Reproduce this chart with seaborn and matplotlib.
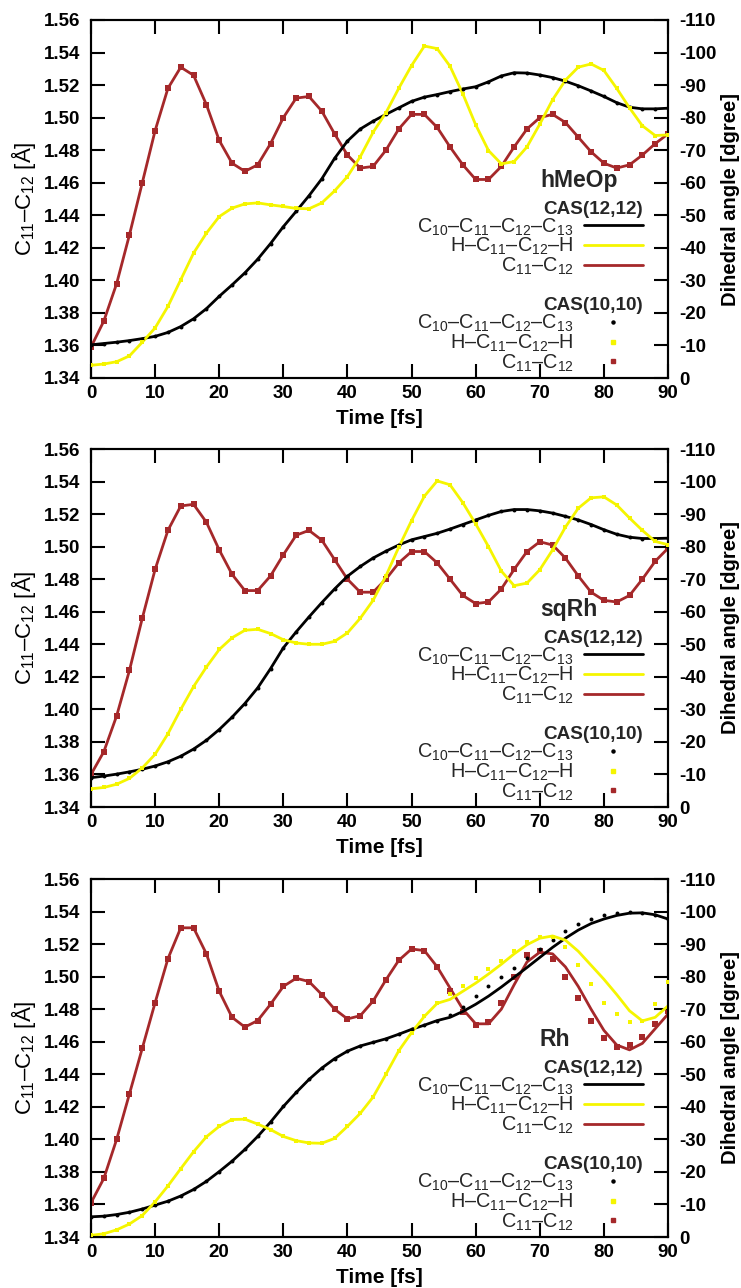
import matplotlib
matplotlib.use("Agg")
import matplotlib.pyplot as plt
import seaborn as sns
import pandas as pd
from matplotlib.lines import Line2D

# ---------------- data ----------------
TIME = list(range(0, 92, 2))          # fs
TIME_LATE = list(range(56, 92, 2))    # fs, where Rh CAS(12,12) departs from CAS(10,10)

PANELS = ["hMeOp", "sqRh", "Rh"]

# C11-C12 bond length [Angstrom]
BOND_HMEOP = [1.359, 1.375, 1.398, 1.428, 1.460, 1.492, 1.518, 1.531, 1.526, 1.508, 1.486,
              1.472, 1.467, 1.471, 1.484, 1.500, 1.512, 1.513, 1.504, 1.490, 1.477,
              1.469, 1.470, 1.480, 1.493, 1.502, 1.502, 1.494, 1.482, 1.471, 1.462,
              1.462, 1.470, 1.482, 1.493, 1.500, 1.502, 1.497, 1.488, 1.479, 1.472,
              1.469, 1.471, 1.477, 1.484, 1.490]
BOND_SQRH = [1.360, 1.374, 1.396, 1.424, 1.456, 1.486, 1.510, 1.525, 1.526, 1.515, 1.498,
             1.483, 1.473, 1.473, 1.482, 1.495, 1.507, 1.510, 1.504, 1.492, 1.480,
             1.472, 1.472, 1.480, 1.490, 1.497, 1.497, 1.490, 1.480, 1.470, 1.465,
             1.466, 1.474, 1.486, 1.497, 1.503, 1.501, 1.493, 1.482, 1.472, 1.467,
             1.466, 1.470, 1.480, 1.491, 1.499]
BOND_RH = [1.361, 1.376, 1.400, 1.428, 1.456, 1.484, 1.511, 1.530, 1.530, 1.514, 1.491,
           1.475, 1.469, 1.473, 1.483, 1.494, 1.499, 1.497, 1.489, 1.480, 1.474,
           1.476, 1.485, 1.498, 1.510, 1.517, 1.516, 1.506, 1.491, 1.478, 1.470,
           1.472, 1.484, 1.500, 1.513, 1.516, 1.511, 1.500, 1.487, 1.473, 1.462,
           1.457, 1.458, 1.463, 1.471, 1.479]
BOND_RH_CAS12_LATE = [1.493, 1.480, 1.471, 1.471, 1.480, 1.495, 1.509, 1.515, 1.514,
                      1.506, 1.494, 1.480, 1.467, 1.458, 1.455, 1.459, 1.468, 1.477]

# C10-C11-C12-C13 dihedral [degree]
CCCC_HMEOP = [-10.2, -10.6, -11.0, -11.5, -12.1, -12.8, -14.0, -15.8, -18.2, -21.3, -25.1,
              -28.6, -32.3, -36.5, -41.3, -46.5, -51.2, -56.0, -61.2, -67.5, -72.8,
              -76.5, -78.9, -81.0, -83.0, -85.0, -86.3, -87.1, -88.0, -88.8, -89.5,
              -91.0, -92.8, -93.8, -93.7, -93.1, -92.3, -91.2, -89.8, -88.2, -86.5,
              -84.6, -83.2, -82.7, -82.7, -82.9]
CCCC_SQRH = [-9.0, -9.5, -10.1, -10.8, -11.6, -12.6, -13.9, -15.6, -17.8, -20.5, -23.8,
             -27.6, -31.8, -36.6, -42.5, -48.9, -53.8, -58.4, -62.8, -67.0, -70.9,
             -73.9, -76.5, -78.6, -80.5, -82.1, -83.1, -84.1, -85.4, -86.8, -88.2,
             -89.6, -90.8, -91.4, -91.4, -91.0, -90.3, -89.3, -88.2, -86.8, -85.2,
             -83.8, -82.9, -82.5, -82.5, -82.6]
CCCC_RH = [-6.2, -6.4, -6.9, -7.6, -8.6, -9.8, -11.0, -12.6, -14.6, -17.1, -20.1,
           -23.3, -26.9, -30.9, -35.3, -40.1, -44.4, -48.4, -51.9, -54.8, -57.1,
           -58.7, -59.8, -60.9, -62.3, -63.8, -65.1, -66.5, -68.3, -70.7, -74.1,
           -77.0, -79.9, -82.7, -85.6, -88.5, -91.3, -94.0, -96.2, -97.8, -98.8,
           -99.5, -99.8, -99.7, -99.0, -97.7]
CCCC_RH_CAS12_LATE = [-67.5, -69.3, -71.5, -74.0, -76.8, -79.8, -82.8, -85.9, -89.0,
                      -91.8, -94.3, -96.3, -97.7, -98.8, -99.5, -99.6, -99.0, -97.7]

# H-C11-C12-H dihedral [degree]
HCCH_HMEOP = [-3.9, -4.3, -5.0, -6.8, -11.0, -15.4, -22.0, -30.2, -38.4, -44.5, -49.6,
              -52.2, -53.5, -53.8, -53.2, -52.7, -52.1, -52.0, -53.8, -57.5, -61.9,
              -68.0, -75.5, -81.5, -89.0, -96.0, -102.0, -101.2, -95.8, -87.3, -77.8,
              -69.9, -65.8, -66.5, -71.0, -78.0, -85.5, -91.5, -95.5, -96.5, -94.5,
              -89.0, -83.0, -77.5, -74.5, -74.7]
HCCH_SQRH = [-5.6, -6.0, -7.0, -8.8, -12.0, -16.2, -22.5, -30.0, -37.0, -43.0, -48.4,
             -52.0, -54.3, -54.6, -53.3, -51.4, -50.4, -50.0, -50.0, -50.9, -53.5,
             -58.0, -63.5, -71.0, -79.8, -88.0, -95.5, -100.2, -99.0, -93.5, -87.0,
             -80.0, -72.5, -68.0, -68.8, -72.9, -79.0, -86.0, -91.8, -95.0, -95.3,
             -92.8, -88.8, -85.0, -81.6, -80.6]
HCCH_RH = [-0.5, -1.0, -2.2, -4.0, -6.6, -10.8, -15.7, -21.0, -26.2, -30.8, -34.0,
           -36.1, -36.2, -34.7, -33.0, -30.9, -29.6, -28.9, -28.8, -30.3, -34.0,
           -38.0, -43.0, -50.0, -57.2, -62.8, -67.8, -71.8, -74.8, -77.2, -79.7,
           -82.2, -84.9, -87.9, -90.5, -92.1, -92.2, -89.0, -83.5, -77.8, -72.0,
           -68.5, -66.0, -66.3, -71.5, -78.2]
HCCH_RH_CAS12_LATE = [-73.0, -75.5, -78.0, -80.8, -83.8, -87.0, -89.8, -91.8, -92.5,
                      -91.2, -87.8, -83.5, -79.2, -74.5, -69.5, -66.4, -67.5, -71.0]

X_TICKS = list(range(0, 100, 10))
LEFT_TICKS = [1.34, 1.36, 1.38, 1.40, 1.42, 1.44, 1.46, 1.48, 1.50, 1.52, 1.54, 1.56]
RIGHT_TICKS = [0, -10, -20, -30, -40, -50, -60, -70, -80, -90, -100, -110]

SERIES_LABELS = [r"C$_{10}$–C$_{11}$–C$_{12}$–C$_{13}$", r"H–C$_{11}$–C$_{12}$–H",
                 r"C$_{11}$–C$_{12}$"]

# ---------------- build tidy tables ----------------
def early(times, vals):
    return [v for t, v in zip(times, vals) if t < TIME_LATE[0]]

data10 = {
    "hMeOp": (BOND_HMEOP, CCCC_HMEOP, HCCH_HMEOP),
    "sqRh": (BOND_SQRH, CCCC_SQRH, HCCH_SQRH),
    "Rh": (BOND_RH, CCCC_RH, HCCH_RH),
}
data12 = {
    "hMeOp": (TIME, BOND_HMEOP, CCCC_HMEOP, HCCH_HMEOP),
    "sqRh": (TIME, BOND_SQRH, CCCC_SQRH, HCCH_SQRH),
    "Rh": (early(TIME, TIME) + TIME_LATE,
           early(TIME, BOND_RH) + BOND_RH_CAS12_LATE,
           early(TIME, CCCC_RH) + CCCC_RH_CAS12_LATE,
           early(TIME, HCCH_RH) + HCCH_RH_CAS12_LATE),
}

# ---------------- style ----------------
sns.set_theme(style="white")
plt.rcParams["font.family"] = ["Liberation Sans", "DejaVu Sans"]
plt.rcParams["mathtext.fontset"] = "custom"
plt.rcParams["mathtext.rm"] = "Liberation Sans"
plt.rcParams["mathtext.it"] = "Liberation Sans:italic"
plt.rcParams["mathtext.bf"] = "Liberation Sans:bold"
plt.rcParams["axes.edgecolor"] = "black"

BLACK = "#000000"
YELLOW = "#f5f500"
RED = "#a5282a"

fig = plt.figure(figsize=(7.41, 12.88), dpi=100)
W, H = 741.0, 1288.0
ax_left, ax_right = 91, 668
AXW = ax_right - ax_left
tops = [20, 449, 879]
ax_h = 358

for i, name in enumerate(PANELS):
    top = tops[i]
    ax = fig.add_axes([ax_left / W, 1 - (top + ax_h) / H, AXW / W, ax_h / H])
    ax2 = ax.twinx()

    t12, b12, c12, h12 = data12[name]
    b10, c10, h10 = data10[name]

    df12 = pd.DataFrame({"time": t12, "bond": b12, "cccc": c12, "hcch": h12})
    df10 = pd.DataFrame({"time": TIME, "bond": b10, "cccc": c10, "hcch": h10})

    # CAS(12,12) lines
    sns.lineplot(data=df12, x="time", y="bond", color=RED, lw=2.0, ax=ax, zorder=2)
    sns.lineplot(data=df12, x="time", y="cccc", color=BLACK, lw=2.0, ax=ax2, zorder=2)
    sns.lineplot(data=df12, x="time", y="hcch", color=YELLOW, lw=2.0, ax=ax2, zorder=2)
    # CAS(10,10) points
    sns.scatterplot(data=df10, x="time", y="bond", color=RED, marker="s", s=13,
                    linewidth=0, ax=ax, zorder=3)
    sns.scatterplot(data=df10, x="time", y="cccc", color=BLACK, marker="o", s=8,
                    linewidth=0, ax=ax2, zorder=3)
    sns.scatterplot(data=df10, x="time", y="hcch", color=YELLOW, marker="s", s=10,
                    linewidth=0, ax=ax2, zorder=3)

    ax.set_xlim(0, 90)
    ax.set_ylim(1.34, 1.56)
    ax2.set_ylim(0, -110)
    ax.set_xticks(X_TICKS)
    ax.set_yticks(LEFT_TICKS)
    ax.set_yticklabels([f"{v:.2f}" for v in LEFT_TICKS])
    ax2.set_yticks(RIGHT_TICKS)
    ax2.set_yticklabels([str(v) for v in RIGHT_TICKS])

    ax.tick_params(axis="x", direction="in", top=True, bottom=True, length=10, width=1.5,
                   labelsize=13.5, pad=5, colors="black")
    ax.tick_params(axis="y", direction="in", left=True, right=False, length=10, width=1.5,
                   labelsize=13.5, pad=7.5, colors="black")
    ax2.tick_params(axis="y", direction="in", right=True, length=10, width=1.5,
                    labelsize=13.5, pad=8, colors="black")
    for lab in ax.get_xticklabels() + ax.get_yticklabels() + ax2.get_yticklabels():
        lab.set_fontweight("bold")
    for a in (ax, ax2):
        for sp in a.spines.values():
            sp.set_linewidth(1.5)
            sp.set_color("black")

    ax.set_ylabel(r"C$_{11}$–C$_{12}$ [Å]", fontsize=16, color="black")
    ax.yaxis.set_label_coords((38 - ax_left) / AXW, 0.5)
    ax2.set_ylabel("Dihedral angle [dgree]", fontsize=14.5, fontweight="bold",
                   color="black", rotation=90)
    ax2.yaxis.set_label_coords((721 - ax_left) / AXW, 0.5)
    ax.set_xlabel("Time [fs]", fontsize=15, fontweight="bold", color="black")
    ax.xaxis.set_label_coords(0.5, -0.087)

    ax2.text(0.778, 0.553, name, transform=ax2.transAxes, fontsize=16.5,
             fontweight="bold", ha="left", va="center")

    h_lines = [Line2D([], [], color=c, lw=2.0) for c in (BLACK, YELLOW, RED)]
    h_pts = [Line2D([], [], ls="none", marker="o", ms=2.2, color=BLACK),
             Line2D([], [], ls="none", marker="s", ms=2.5, color=YELLOW),
             Line2D([], [], ls="none", marker="s", ms=3.0, color=RED)]
    common = dict(loc="upper right", frameon=False, markerfirst=False, alignment="right",
                  fontsize=14.3, title_fontproperties={"weight": "bold", "size": 13.6},
                  handlelength=3.0, handletextpad=0.5, labelspacing=-0.08,
                  borderpad=0, borderaxespad=0)
    leg1 = ax2.legend(h_lines, SERIES_LABELS, title="CAS(12,12)",
                      bbox_to_anchor=(0.957, 0.495), **common)
    ax2.add_artist(leg1)
    leg2 = ax2.legend(h_pts, SERIES_LABELS, title="CAS(10,10)",
                      bbox_to_anchor=(0.957, 0.225), **common)

fig.savefig("out.png", dpi=100)
